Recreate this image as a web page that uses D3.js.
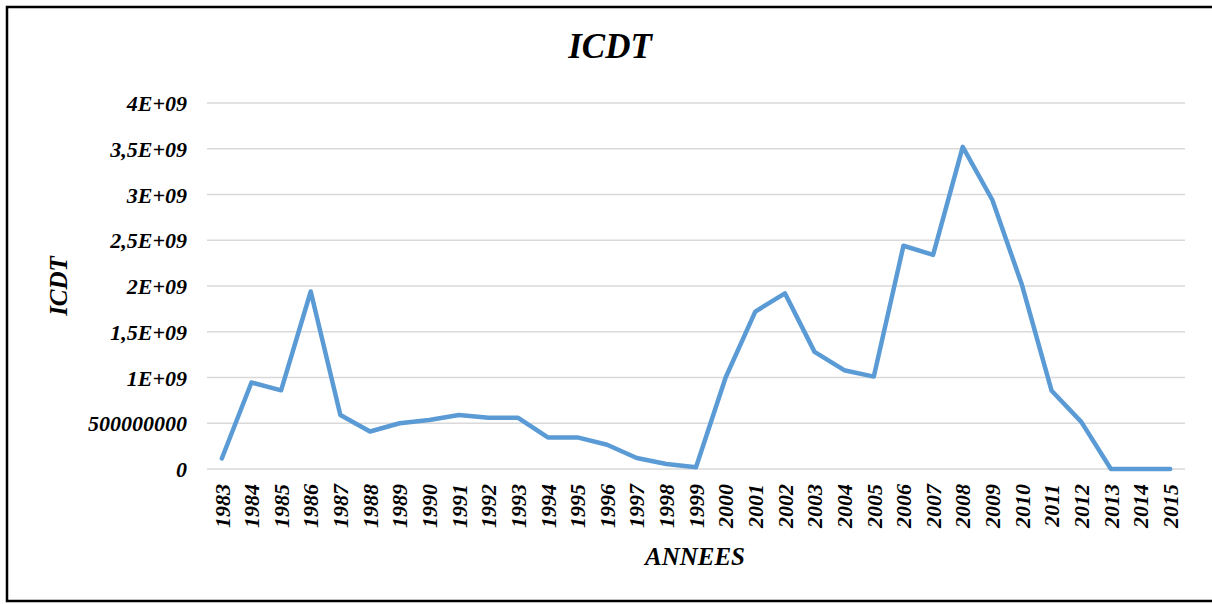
<!DOCTYPE html>
<html>
<head>
<meta charset="utf-8">
<script src="https://cdn.jsdelivr.net/npm/d3@7"></script>
<style>
    body { margin: 0; background: #fff; }
    text { font-family: "Liberation Serif", "Times New Roman", serif; font-weight: bold; font-style: italic; fill: #000; }
</style>
</head>
<body>
<svg id="chart" width="1212" height="604"></svg>
<script>
// years on the x axis
const years = [1983, 1984, 1985, 1986, 1987, 1988, 1989, 1990, 1991, 1992, 1993,
    1994, 1995, 1996, 1997, 1998, 1999, 2000, 2001, 2002, 2003, 2004,
    2005, 2006, 2007, 2008, 2009, 2010, 2011, 2012, 2013, 2014, 2015];

// ICDT values
const icdt = [1.15e8, 9.45e8, 8.6e8, 1.94e9, 5.9e8, 4.1e8, 5.0e8, 5.35e8, 5.9e8, 5.6e8, 5.6e8,
    3.45e8, 3.45e8, 2.65e8, 1.2e8, 5.5e7, 2e7, 1.0e9, 1.72e9, 1.92e9, 1.28e9, 1.08e9,
    1.01e9, 2.44e9, 2.34e9, 3.52e9, 2.94e9, 2.01e9, 8.55e8, 5.15e8, 0, 0, 0];

const yTicks = [0, 5e8, 1e9, 1.5e9, 2e9, 2.5e9, 3e9, 3.5e9, 4e9];
const yTickLabels = ["0", "500000000", "1E+09", "1,5E+09", "2E+09", "2,5E+09", "3E+09", "3,5E+09", "4E+09"];

const svg = d3.select("#chart");

// frame round the figure
svg.append("rect")
    .attr("x", 7).attr("y", 7)
    .attr("width", 1210).attr("height", 594)
    .attr("fill", "none")
    .attr("stroke", "#000")
    .attr("stroke-width", 2.5);

const plotLeft = 207, plotRight = 1185, plotTop = 103, plotBottom = 469;

const x = d3.scaleBand().domain(years).range([plotLeft, plotRight]);
const y = d3.scaleLinear().domain([0, 4e9]).range([plotBottom, plotTop]);

// gridlines
svg.append("g")
    .selectAll("line")
    .data(yTicks)
    .join("line")
    .attr("x1", plotLeft).attr("x2", plotRight)
    .attr("y1", d => y(d)).attr("y2", d => y(d))
    .attr("stroke", "#d9d9d9")
    .attr("stroke-width", 1.5);

// y axis labels
const yAxis = svg.append("g")
    .attr("transform", "translate(" + 187 + ",0)")
    .call(d3.axisLeft(y).tickValues(yTicks).tickSize(0).tickPadding(0)
        .tickFormat((d, i) => yTickLabels[i]));
yAxis.select(".domain").remove();
yAxis.selectAll("text")
    .style("font-family", "Liberation Serif")
    .style("font-size", "22px")
    .attr("dy", "0.35em");

// x axis labels, turned on their side
const xAxis = svg.append("g")
    .attr("transform", "translate(0," + 484 + ")")
    .call(d3.axisBottom(x).tickSize(0).tickPadding(0));
xAxis.select(".domain").remove();
xAxis.selectAll("text")
    .style("font-family", "Liberation Serif")
    .style("font-size", "22px")
    .attr("text-anchor", "end")
    .attr("transform", "rotate(-90)")
    .attr("x", 0)
    .attr("y", 0)
    .attr("dy", "0.35em");

// the series line
const line = d3.line()
    .x((d, i) => x(years[i]) + x.bandwidth() / 2)
    .y(d => y(d));

svg.append("path")
    .datum(icdt)
    .attr("d", line)
    .attr("fill", "none")
    .attr("stroke", "#5b9bd5")
    .attr("stroke-width", 4.5)
    .attr("stroke-linejoin", "round")
    .attr("stroke-linecap", "round");

// titles
svg.append("text")
    .attr("x", 610).attr("y", 58)
    .attr("text-anchor", "middle")
    .style("font-size", "35px")
    .text("ICDT");

svg.append("text")
    .attr("transform", "translate(67,286)rotate(-90)")
    .attr("text-anchor", "middle")
    .style("font-size", "25px")
    .text("ICDT");

svg.append("text")
    .attr("x", 695).attr("y", 565)
    .attr("text-anchor", "middle")
    .style("font-size", "25px")
    .text("ANNEES");
</script>
</body>
</html>
